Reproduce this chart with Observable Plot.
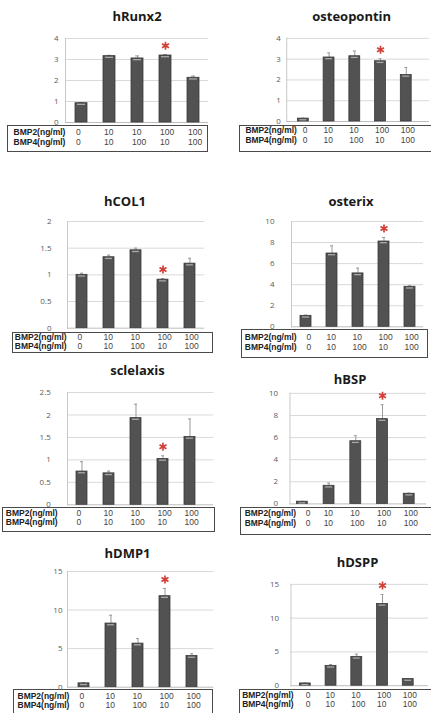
<!DOCTYPE html>
<html>
<head>
<meta charset="utf-8">
<script src="https://cdn.jsdelivr.net/npm/d3@7"></script>
<script src="https://cdn.jsdelivr.net/npm/@observablehq/plot@0.6"></script>
<style>
  body { margin: 0; background: #fff; }
  #chart { position: relative; width: 431px; height: 713px; overflow: hidden; background: #fff; font-family: "Open Sans", sans-serif; }
  .ttl { position: absolute; width: 200px; text-align: center; font-size: 13px; font-weight: 700; line-height: 13px; color: #1a1a1a; white-space: nowrap; }
  .box { position: absolute; border: 1px solid #4a4a4a; box-sizing: border-box; }
  .pnl { position: absolute; }
</style>
</head>
<body>
<div id="chart"></div>
<script>
// ---- data ----
const conditions = ["0/0", "10/10", "10/100", "100/10", "100/100"];
const bmp2 = ["0", "10", "10", "100", "100"];
const bmp4 = ["0", "10", "100", "10", "100"];
const rowLabels = ["BMP2(ng/ml)", "BMP4(ng/ml)"];
const significant = "100/10";
const genes = ["hRunx2", "osteopontin", "hCOL1", "osterix", "sclelaxis", "hBSP", "hDMP1", "hDSPP"];

const hRunx2Mean = [0.92, 3.16, 3.05, 3.19, 2.13];
const hRunx2Err = [0.03, 0.04, 0.12, 0.04, 0.08];
const osteopontinMean = [0.14, 3.08, 3.14, 2.90, 2.24];
const osteopontinErr = [0.02, 0.22, 0.25, 0.12, 0.36];
const hCOL1Mean = [1.00, 1.33, 1.46, 0.91, 1.21];
const hCOL1Err = [0.03, 0.04, 0.04, 0.02, 0.10];
const osterixMean = [1.04, 6.96, 5.07, 8.10, 3.80];
const osterixErr = [0.07, 0.73, 0.50, 0.38, 0.10];
const sclelaxisMean = [0.74, 0.70, 1.93, 1.02, 1.51];
const sclelaxisErr = [0.22, 0.05, 0.31, 0.07, 0.40];
const hBSPMean = [0.20, 1.64, 5.67, 7.67, 0.92];
const hBSPErr = [0.03, 0.24, 0.50, 1.30, 0.05];
const hDMP1Mean = [0.50, 8.25, 5.65, 11.80, 4.04];
const hDMP1Err = [0.08, 1.08, 0.65, 1.00, 0.30];
const hDSPPMean = [0.34, 2.94, 4.27, 12.10, 0.98];
const hDSPPErr = [0.05, 0.20, 0.40, 1.40, 0.08];

const means = [hRunx2Mean, osteopontinMean, hCOL1Mean, osterixMean, sclelaxisMean, hBSPMean, hDMP1Mean, hDSPPMean];
const errs = [hRunx2Err, osteopontinErr, hCOL1Err, osterixErr, sclelaxisErr, hBSPErr, hDMP1Err, hDSPPErr];
const yMaxes = [4, 4, 2, 10, 2.5, 10, 15, 15];
const ySteps = [1, 1, 0.5, 2, 0.5, 2, 5, 5];

// ---- layout (pixel positions of each panel in the composite) ----
const layout = [
  {title: [137, 21.7],   plot: [65, 208, 38, 122],        inset: [0, 0],      box: [7, 125, 208, 152],        rows: [134, 144],     labelX: 13,    tickPad: 7,    firstDx: 0},
  {title: [351.7, 21.3], plot: [286.7, 431, 38, 122],     inset: [3.1, 9],    box: [239, 125, 433, 152],      rows: [134, 144],     labelX: 245,   tickPad: 6,    firstDx: 5},
  {title: [125, 206],    plot: [66.7, 204, 221, 327.7],   inset: [0, 0],      box: [11.7, 331.7, 213.3, 353.3], rows: [340, 348.5], labelX: 14,    tickPad: 16,   firstDx: 1},
  {title: [351, 206],    plot: [291, 423, 220.7, 326],    inset: [0, 0],      box: [241, 329.3, 428, 358.3],  rows: [339.3, 349.3], labelX: 244.3, tickPad: 17,   firstDx: 6},
  {title: [137.5, 375],  plot: [66.7, 213, 391.7, 504],   inset: [0.6, 8.7],  box: [1.7, 506.7, 215, 531.7],  rows: [515, 524],     labelX: 5,     tickPad: 16.7, firstDx: 0},
  {title: [350, 384],    plot: [290, 428, 393.3, 505],    inset: [-2.5, 2.5], box: [240, 506.7, 433, 535],    rows: [517, 527.5],   labelX: 244.3, tickPad: 12,   firstDx: 9},
  {title: [127.5, 558.3],plot: [66.7, 213, 571, 686.7],   inset: [1.3, 5.5],  box: [12.7, 689, 213, 720],     rows: [698.3, 707.7], labelX: 16.7,  tickPad: 5,    firstDx: 1},
  {title: [357.5, 567.7],plot: [291, 430, 584.3, 686.7],  inset: [0.25, 6.25],box: [239, 689, 433, 720],      rows: [699.3, 708.3], labelX: 241.7, tickPad: 12,   firstDx: 6}
];

const tableFont = "'Liberation Sans', Arial, sans-serif";
const chart = document.getElementById("chart");

genes.forEach((gene, gi) => {
  const L = layout[gi];
  const [pl, pr, pt, pb] = L.plot;
  const [bl, bt, br, bb] = L.box;
  const rows = conditions.map((c, i) => ({cond: c, bmp2: bmp2[i], bmp4: bmp4[i], mean: means[gi][i], err: errs[gi][i], first: i === 0}));
  const yMax = yMaxes[gi];
  const ticks = d3.range(0, yMax + 1e-9, ySteps[gi]);

  // title
  const t = document.createElement("div");
  t.className = "ttl";
  t.textContent = gene;
  t.style.left = (L.title[0] - 100) + "px";
  t.style.top = (L.title[1] - 11.5) + "px";
  chart.appendChild(t);

  // table frame
  const b = document.createElement("div");
  b.className = "box";
  b.style.left = bl + "px";
  b.style.top = bt + "px";
  b.style.width = (br - bl) + "px";
  b.style.height = (bb - bt) + "px";
  chart.appendChild(b);

  const svgLeft = bl;
  const svgTop = pt - 12;
  const svgRight = Math.max(pr, br);
  const width = svgRight - svgLeft;
  const height = bb - svgTop;

  const colText = (key, rowY) => [
    Plot.text(rows.filter(d => d.first), {x: "cond", text: key, frameAnchor: "bottom", dy: rowY - pb, dx: -5.5 + L.firstDx, textAnchor: "start", fontSize: 8.5, fontFamily: tableFont, fill: "#444"}),
    Plot.text(rows.filter(d => !d.first), {x: "cond", text: key, frameAnchor: "bottom", dy: rowY - pb, dx: -5.5, textAnchor: "start", fontSize: 8.5, fontFamily: tableFont, fill: "#444"})
  ];

  const svg = Plot.plot({
    width, height,
    marginLeft: pl - svgLeft,
    marginRight: svgRight - pr,
    marginTop: pt - svgTop,
    marginBottom: bb - pb,
    style: {background: "transparent", fontFamily: "'Open Sans', sans-serif", overflow: "visible"},
    x: {domain: conditions, paddingInner: 0.58, paddingOuter: 0.29, insetLeft: L.inset[0], insetRight: L.inset[1], axis: null},
    y: {domain: [0, yMax]},
    marks: [
      Plot.gridY(ticks.filter(d => d > 0), {stroke: "#d9d9d9", strokeOpacity: 1}),
      Plot.axisY(ticks, {tickSize: 0, tickPadding: L.tickPad, tickFormat: d => String(d), fontSize: 8, fill: "#5a5a5a", label: null}),
      Plot.frame({anchor: "left", stroke: "#c8c8c8"}),
      Plot.ruleY([0], {stroke: "#bdbdbd"}),
      Plot.ruleX(rows, {x: "cond", y1: "mean", y2: d => d.mean + d.err, stroke: "#9a9a9a", strokeWidth: 1}),
      Plot.tickY(rows, {x: "cond", y: d => d.mean + d.err, stroke: "#9a9a9a", insetLeft: 4, insetRight: 4}),
      Plot.barY(rows, {x: "cond", y: "mean", fill: "#525252", stroke: "#3a3a3a", strokeWidth: 0.8}),
      Plot.tickY(rows, {x: "cond", y: "mean", dy: 1.2, stroke: "#a9a9a9", strokeWidth: 1.3, insetLeft: 2, insetRight: 2}),
      Plot.dot(rows.filter(d => d.cond === significant), {x: "cond", y: d => d.mean + d.err, dy: -9, symbol: "asterisk", r: 3.8, stroke: "#d2403a", strokeWidth: 1.7}),
      ...colText("bmp2", L.rows[0]),
      ...colText("bmp4", L.rows[1]),
      Plot.text([rowLabels[0]], {text: d => d, frameAnchor: "bottom-left", dx: L.labelX - pl, dy: L.rows[0] - pb, textAnchor: "start", fontSize: 8.5, fontFamily: tableFont, fontWeight: "bold", fill: "#222"}),
      Plot.text([rowLabels[1]], {text: d => d, frameAnchor: "bottom-left", dx: L.labelX - pl, dy: L.rows[1] - pb, textAnchor: "start", fontSize: 8.5, fontFamily: tableFont, fontWeight: "bold", fill: "#222"})
    ]
  });
  const wrap = document.createElement("div");
  wrap.className = "pnl";
  wrap.style.left = svgLeft + "px";
  wrap.style.top = svgTop + "px";
  wrap.appendChild(svg);
  chart.appendChild(wrap);
});
</script>
</body>
</html>
